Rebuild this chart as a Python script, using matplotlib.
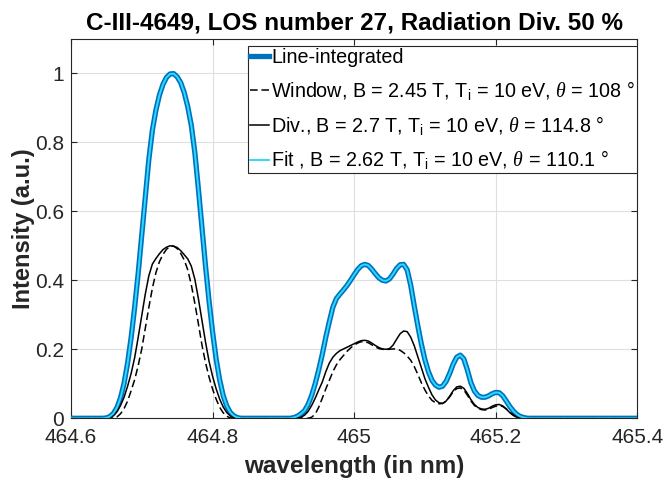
import numpy as np
import matplotlib
matplotlib.use("Agg")
import matplotlib.pyplot as plt

# ---------------- Data ----------------
step = 0.005
wavelength = np.round(np.arange(464.600, 465.4001, step), 3)

# (start wavelength, values every 0.005 nm); zero elsewhere
line_int_peak1 = (464.645, [
    0.000, 0.001, 0.005, 0.014, 0.031, 0.059, 0.101, 0.160, 0.234, 0.322,
    0.421, 0.531, 0.643, 0.750, 0.835, 0.893, 0.937, 0.968, 0.988, 0.998,
    0.999, 0.990, 0.973, 0.944, 0.903, 0.849, 0.770, 0.665, 0.553, 0.443,
    0.341, 0.251, 0.173, 0.112, 0.066, 0.036, 0.017, 0.007, 0.002, 0.000])
line_int_group2 = (464.910, [
    0.000, 0.002, 0.006, 0.013, 0.022, 0.040, 0.066, 0.100, 0.140, 0.185,
    0.235, 0.280, 0.322, 0.347, 0.360, 0.372, 0.385, 0.400, 0.416, 0.431,
    0.442, 0.446, 0.443, 0.432, 0.419, 0.407, 0.400, 0.398, 0.404, 0.418,
    0.434, 0.445, 0.446, 0.430, 0.385, 0.325, 0.268, 0.215, 0.170, 0.135,
    0.110, 0.096, 0.090, 0.093, 0.107, 0.130, 0.157, 0.177, 0.183, 0.172,
    0.140, 0.103, 0.079, 0.066, 0.061, 0.061, 0.065, 0.071, 0.075, 0.074,
    0.065, 0.050, 0.034, 0.021, 0.011, 0.005, 0.002, 0.000])

window_peak1 = (464.655, [
    0.000, 0.001, 0.004, 0.013, 0.028, 0.050, 0.080, 0.112, 0.153, 0.201,
    0.261, 0.321, 0.377, 0.422, 0.454, 0.475, 0.490, 0.498, 0.499, 0.492,
    0.478, 0.459, 0.430, 0.387, 0.333, 0.274, 0.213, 0.162, 0.120, 0.085,
    0.056, 0.032, 0.016, 0.006, 0.001, 0.000])
window_group2 = (464.935, [
    0.000, 0.003, 0.012, 0.032, 0.058, 0.085, 0.110, 0.135, 0.155, 0.170,
    0.182, 0.194, 0.204, 0.212, 0.218, 0.222, 0.222, 0.219, 0.213, 0.207,
    0.202, 0.200, 0.199, 0.200, 0.201, 0.201, 0.197, 0.190, 0.180, 0.168,
    0.150, 0.127, 0.103, 0.082, 0.065, 0.052, 0.045, 0.042, 0.043, 0.049,
    0.062, 0.077, 0.086, 0.088, 0.082, 0.067, 0.050, 0.037, 0.029, 0.025,
    0.024, 0.026, 0.031, 0.035, 0.037, 0.034, 0.027, 0.018, 0.010, 0.004,
    0.001, 0.000])

div_peak1 = (464.650, [
    0.000, 0.002, 0.009, 0.019, 0.037, 0.061, 0.093, 0.130, 0.176, 0.235,
    0.297, 0.360, 0.413, 0.447, 0.463, 0.477, 0.489, 0.496, 0.500, 0.499,
    0.495, 0.486, 0.474, 0.462, 0.441, 0.403, 0.347, 0.285, 0.222, 0.166,
    0.122, 0.086, 0.056, 0.033, 0.017, 0.007, 0.002, 0.000])
div_group2 = (464.920, [
    0.000, 0.003, 0.009, 0.020, 0.037, 0.058, 0.082, 0.105, 0.135, 0.160,
    0.177, 0.188, 0.196, 0.201, 0.206, 0.211, 0.216, 0.221, 0.225, 0.226,
    0.224, 0.218, 0.211, 0.205, 0.201, 0.200, 0.202, 0.212, 0.229, 0.245,
    0.253, 0.251, 0.235, 0.210, 0.178, 0.145, 0.115, 0.090, 0.068, 0.053,
    0.045, 0.043, 0.050, 0.064, 0.080, 0.091, 0.093, 0.087, 0.072, 0.054,
    0.040, 0.031, 0.027, 0.026, 0.029, 0.035, 0.039, 0.040, 0.036, 0.027,
    0.016, 0.008, 0.003, 0.000])

# fit lies on top of the line-integrated spectrum
fit_peak1 = line_int_peak1
fit_group2 = line_int_group2

labels = [
    "Line-integrated",
    r"Window, B = 2.45 T, T$_{\mathrm{i}}$ = 10 eV, $\theta$ = 108 °",
    r"Div., B = 2.7 T, T$_{\mathrm{i}}$ = 10 eV, $\theta$ = 114.8 °",
    r"Fit , B = 2.62 T, T$_{\mathrm{i}}$ = 10 eV, $\theta$ = 110.1 °",
]
title = "C-III-4649, LOS number 27, Radiation Div. 50 %"
xticks = [464.6, 464.8, 465.0, 465.2, 465.4]
xticklabels = ["464.6", "464.8", "465", "465.2", "465.4"]
yticks = [0, 0.2, 0.4, 0.6, 0.8, 1.0]
yticklabels = ["0", "0.2", "0.4", "0.6", "0.8", "1"]


def spectrum(*segments):
    y = np.zeros(len(wavelength))
    for start, vals in segments:
        i = int(round((start - wavelength[0]) / step))
        y[i:i + len(vals)] = vals
    return y


# ---------------- Plot ----------------
plt.rcParams["font.family"] = ["Liberation Sans", "DejaVu Sans"]
plt.rcParams["mathtext.fontset"] = "custom"
plt.rcParams["mathtext.rm"] = "Liberation Sans"
plt.rcParams["mathtext.it"] = "Liberation Serif:italic"

ink = "#262626"
fig = plt.figure(figsize=(6.67, 4.83), dpi=100)
ax = fig.add_axes([0.1064, 0.1340, 0.8490, 0.7857])

ax.plot(wavelength, spectrum(line_int_peak1, line_int_group2),
        color="#0072BD", lw=3.8, label=labels[0], zorder=3)
ax.plot(wavelength, spectrum(window_peak1, window_group2),
        color="black", lw=1.1, dashes=(5, 2.5), label=labels[1], zorder=4)
ax.plot(wavelength, spectrum(div_peak1, div_group2),
        color="black", lw=1.1, label=labels[2], zorder=4)
ax.plot(wavelength, spectrum(fit_peak1, fit_group2),
        color="#2ED8FF", lw=1.4, label=labels[3], zorder=5)

ax.set_xlim(464.6, 465.4)
ax.set_ylim(0, 1.1)
ax.set_xticks(xticks)
ax.set_xticklabels(xticklabels)
ax.set_yticks(yticks)
ax.set_yticklabels(yticklabels)
ax.grid(True, color="#DFDFDF", lw=0.8)
ax.set_axisbelow(True)
ax.tick_params(direction="in", length=4, width=0.8, colors=ink,
               labelsize=15, top=True, right=True)
ax.tick_params(axis="x", pad=7)
ax.tick_params(axis="y", pad=5)
for s in ax.spines.values():
    s.set_color(ink)
    s.set_linewidth(0.8)

ax.set_title(title, fontsize=17.5, fontweight="bold", color="black", pad=7)
ax.set_xlabel("wavelength (in nm)", fontsize=17.5, fontweight="bold", color=ink, labelpad=6)
ax.set_ylabel("Intensity (a.u.)", fontsize=17, fontweight="bold", color=ink, labelpad=0)

leg = ax.legend(loc="upper right", bbox_to_anchor=(1.0, 0.981), borderaxespad=0,
                fontsize=14.2, frameon=True, fancybox=False, framealpha=1,
                edgecolor=ink, handlelength=1.0, handletextpad=0.1,
                borderpad=0.1, labelspacing=0.6)
leg.get_frame().set_linewidth(0.8)

fig.savefig("out.png", dpi=100)
